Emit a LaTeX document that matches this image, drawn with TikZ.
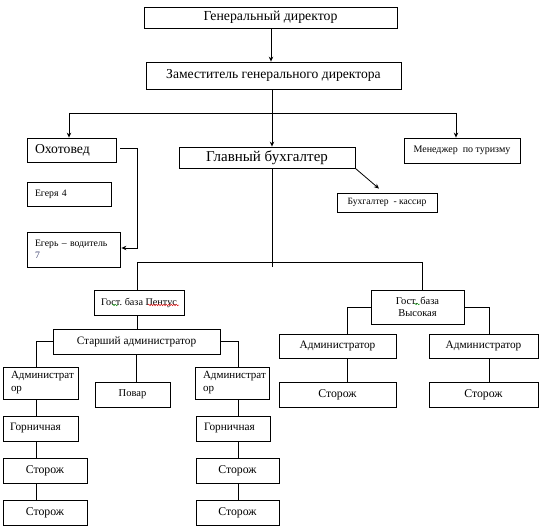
\documentclass[tikz,border=0pt]{standalone}
\usepackage{fontspec}
\setmainfont{Liberation Serif}
\usetikzlibrary{arrows.meta,decorations.pathmorphing}
\newcommand{\fsz}[1]{\fontsize{#1}{#1}\selectfont}
\frenchspacing
\definecolor{spellred}{RGB}{230,30,30}
\definecolor{spellgreen}{RGB}{40,160,40}
\definecolor{seven}{RGB}{60,65,110}
\begin{document}
\begin{tikzpicture}[x=1pt,y=-1pt,
  box/.style={draw, line width=0.8pt, inner sep=0pt, align=center},
  lbox/.style={box, align=left},
  conn/.style={line width=0.8pt},
  arr/.style={conn, -{Stealth[length=5pt,width=4.5pt]}},
  wavy/.style={line width=0.5pt, decorate, decoration={snake, amplitude=0.7pt, segment length=2.5pt}},
  fn/.style={font=\fsz{11.3}}]
\useasboundingbox (0,0) rectangle (539,527);
% boxes
\node[box,font=\fsz{13.8},minimum width=253,minimum height=21] (gd) at (270.5,17.5) {Генеральный директор};
\node[box,font=\fsz{13.6},minimum width=255,minimum height=27] (zam) at (273.5,75.5) {Заместитель генерального директора};
\node[lbox,font=\fsz{13.7},text width=73,minimum width=89,minimum height=24] (ohot) at (71.5,150) {Охотовед};
\node[box,font=\fsz{15},minimum width=176,minimum height=21] (glav) at (267,157.5) {Главный бухгалтер};
\node[box,font=\fsz{10},minimum width=116,minimum height=25] (men) at (462,150.5) {Менеджер\ \ по туризму};
\node[lbox,font=\fsz{9.8},text width=68,minimum width=84,minimum height=24] (eg4) at (69,194) {Егеря 4};
\node[lbox,font=\fsz{9.8},text width=77,minimum width=93,minimum height=35] (egv) at (73.5,249.5) {Егерь – водитель\\[2pt]\textcolor{seven}{7}};
\node[box,font=\fsz{9.6},minimum width=100,minimum height=19] (kas) at (387,202.5) {Бухгалтер\ \ - кассир};
\node[box,font=\fsz{10.2},minimum width=90,minimum height=25] (pen) at (139,302.5) {Гост. база Пентус};
\node[box,font=\fsz{11.3},minimum width=167,minimum height=25] (star) at (136.5,341.5) {Старший администратор};
\node[lbox,font=\fsz{11},text width=59,minimum width=75,minimum height=32] (admL) at (40.5,383) {Администрат\\[2pt]ор};
\node[box,font=\fsz{10.5},minimum width=75,minimum height=25] (povar) at (132.5,394.5) {Повар};
\node[lbox,font=\fsz{11},text width=58,minimum width=74,minimum height=32] (admR) at (232,383) {Администрат\\[2pt]ор};
\node[lbox,fn,text width=61,minimum width=75,minimum height=25] (gorL) at (40.5,428.5) {Горничная};
\node[box,font=\fsz{11.8},minimum width=84,minimum height=25] (st1L) at (45,470.5) {Сторож};
\node[box,font=\fsz{11.8},minimum width=84,minimum height=25] (st2L) at (45,512.5) {Сторож};
\node[lbox,fn,text width=58,minimum width=74,minimum height=25] (gorR) at (233,428.5) {Горничная};
\node[box,font=\fsz{11.8},minimum width=83,minimum height=25] (st1R) at (237.5,470.5) {Сторож};
\node[box,font=\fsz{11.8},minimum width=83,minimum height=25] (st2R) at (237.5,512.5) {Сторож};
\node[box,font=\fsz{10.5},minimum width=93,minimum height=34] (vys) at (417.5,307) {Гост. база\\[1pt]Высокая};
\node[box,fn,minimum width=117,minimum height=24] (admV1) at (337.5,346) {Администратор};
\node[box,fn,minimum width=109,minimum height=24] (admV2) at (483.5,346) {Администратор};
\node[box,font=\fsz{11.8},minimum width=117,minimum height=25] (stV1) at (337.5,394.5) {Сторож};
\node[box,font=\fsz{11.8},minimum width=109,minimum height=25] (stV2) at (483.5,394.5) {Сторож};
% spell-check marks
\draw[wavy,spellred] (148,305) -- (179,305);
\draw[wavy,spellgreen] (112,305) -- (118,305);
\draw[wavy,spellgreen] (414,304) -- (420,304);
% connectors
\coordinate (t1) at (271,0);
\draw[arr] (t1 |- gd.south) -- (t1 |- zam.north);
\coordinate (b1L) at (69,113);
\coordinate (b1M) at (272,113);
\coordinate (b1R) at (456,113);
\draw[conn] (b1M |- zam.south) -- (b1M);
\draw[conn] (b1L) -- (b1R);
\draw[arr] (b1L) -- (b1L |- ohot.north);
\draw[arr] (b1M) -- (b1M |- glav.north);
\draw[arr] (b1R) -- (b1R |- men.north);
\coordinate (oe) at (137,248);
\draw[arr] ([xshift=4pt,yshift=2pt]ohot.east) -| (oe) -- ([xshift=1pt,yshift=1.5pt]egv.east);
\draw[arr] (glav.south east) -- ([xshift=-8pt,yshift=4pt]kas.north);
\coordinate (b2M) at (272,262);
\coordinate (b2L) at (137,262);
\coordinate (b2R) at (422,262);
\draw[conn] (b2M |- glav.south) -- ([yshift=-5pt]b2M);
\draw[conn] (b2L |- pen.north) -- (b2L) -- (b2R) -- (b2R |- vys.north);
\draw[conn] (b2L |- pen.south) -- (b2L |- star.north);
\coordinate (sL) at (36,0);
\coordinate (sR) at (238,0);
\draw[conn] (star.west) -| (sL |- admL.north);
\draw[conn] (star.east) -| (sR |- admR.north);
\draw[conn] (star.south) -- (star.south |- povar.north);
\draw[conn] (sL |- admL.south) -- (sL |- gorL.north);
\draw[conn] (sL |- gorL.south) -- (sL |- st1L.north);
\draw[conn] (sL |- st1L.south) -- (sL |- st2L.north);
\draw[conn] (sR |- admR.south) -- (sR |- gorR.north);
\draw[conn] (sR |- gorR.south) -- (sR |- st1R.north);
\draw[conn] (sR |- st1R.south) -- (sR |- st2R.north);
\coordinate (vL) at (347,0);
\coordinate (vR) at (489,0);
\draw[conn] (vys.west) -| (vL |- admV1.north);
\draw[conn] (vys.east) -| (vR |- admV2.north);
\draw[conn] (vL |- admV1.south) -- (vL |- stV1.north);
\draw[conn] (vR |- admV2.south) -- (vR |- stV2.north);
\end{tikzpicture}
\end{document}
